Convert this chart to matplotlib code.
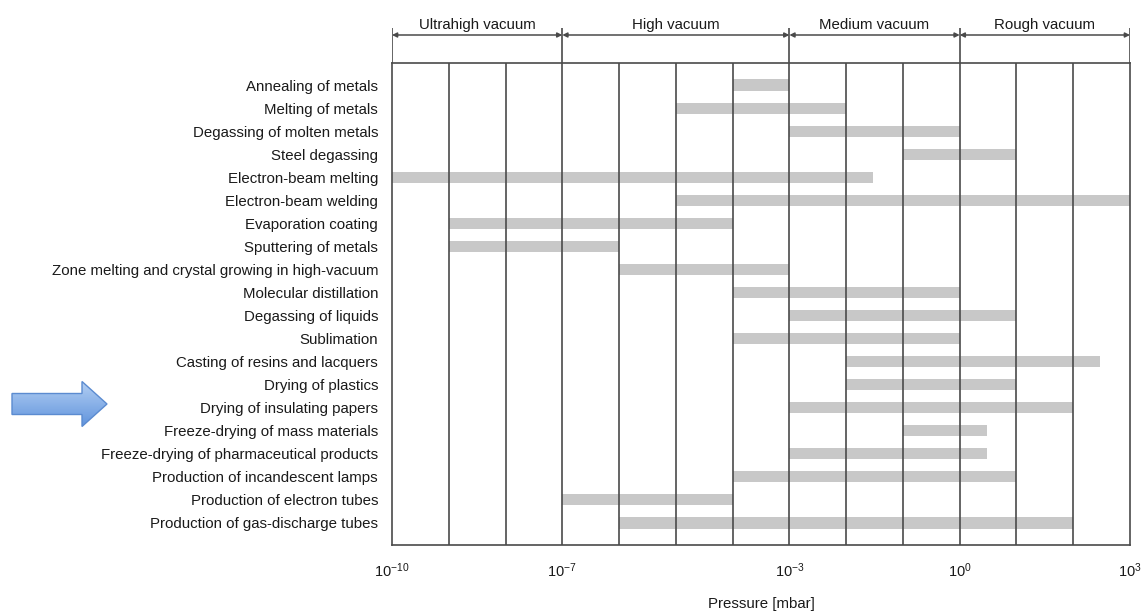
import matplotlib
matplotlib.use("Agg")
import numpy as np
from matplotlib import pyplot as plt
from matplotlib.colors import LinearSegmentedColormap
from matplotlib.patches import FancyArrow

FONT = ["Liberation Sans Narrow", "Liberation Sans", "DejaVu Sans"]
plt.rcParams["font.family"] = FONT
plt.rcParams["mathtext.fontset"] = "custom"
plt.rcParams["mathtext.rm"] = "Liberation Sans"
plt.rcParams["mathtext.it"] = "Liberation Sans"

# Applications and their working pressure range [mbar]
processes = [
    "Annealing of metals",
    "Melting of metals",
    "Degassing of molten metals",
    "Steel degassing",
    "Electron-beam melting",
    "Electron-beam welding",
    "Evaporation coating",
    "Sputtering of metals",
    "Zone melting and crystal growing in high-vacuum",
    "Molecular distillation",
    "Degassing of liquids",
    "Sublimation",
    "Casting of resins and lacquers",
    "Drying of plastics",
    "Drying of insulating papers",
    "Freeze-drying of mass materials",
    "Freeze-drying of pharmaceutical products",
    "Production of incandescent lamps",
    "Production of electron tubes",
    "Production of gas-discharge tubes",
]
p_low = [1e-4, 1e-5, 1e-3, 1e-1, 1e-10, 1e-5, 1e-9, 1e-9, 1e-6, 1e-4,
         1e-3, 1e-4, 1e-2, 1e-2, 1e-3, 1e-1, 1e-3, 1e-4, 1e-7, 1e-6]
p_high = [1e-3, 1e-2, 1e0, 1e1, 3e-2, 1e3, 1e-4, 1e-6, 1e-3, 1e0,
          1e1, 1e0, 3e2, 1e1, 1e2, 3e0, 3e0, 1e1, 1e-4, 1e2]

# Vacuum ranges shown in the header
ranges = ["Ultrahigh vacuum", "High vacuum", "Medium vacuum", "Rough vacuum"]
range_edges = [1e-10, 1e-7, 1e-3, 1e0, 1e3]

tick_values = [1e-10, 1e-7, 1e-3, 1e0, 1e3]
tick_labels = [r"$10^{-10}$", r"$10^{-7}$", r"$10^{-3}$", r"$10^{0}$", r"$10^{3}$"]

LINE = "#4a4a4a"
BAR = "#c8c8c8"
TEXT = "#1a1a1a"
W, H = 1145, 614

fig = plt.figure(figsize=(W / 100, H / 100), dpi=100)
x0, x1 = 392 / W, 1130 / W
ax = fig.add_axes([x0, 1 - 545 / H, x1 - x0, (545 - 63) / H])
hdr = fig.add_axes([x0, 1 - 63 / H, x1 - x0, (63 - 28) / H], sharex=ax)

ax.set_xscale("log")
ax.set_xlim(1e-10, 1e3)
ypos = list(range(len(processes)))
ax.barh(ypos, [h - l for l, h in zip(p_low, p_high)], left=p_low, height=0.48,
        color=BAR, zorder=1)
ax.set_ylim(len(processes) - 1 + 0.955, -0.955)

# decade grid lines drawn over the bars
for e in range(-9, 3):
    ax.axvline(10.0 ** e, color=LINE, lw=1.2, zorder=3)
for s in ax.spines.values():
    s.set_color(LINE)
    s.set_linewidth(1.2)
    s.set_zorder(4)

ax.set_yticks(ypos)
ax.set_yticklabels(processes, fontsize=10.8, color=TEXT)
ax.tick_params(axis="y", length=0, pad=10)
ax.set_xticks(tick_values)
ax.set_xticklabels(tick_labels, fontsize=10.5, color=TEXT)
ax.minorticks_off()
ax.tick_params(axis="x", length=0, pad=12)
ax.set_xlabel("Pressure [mbar]", fontsize=10.8, color=TEXT, labelpad=12)

# header with vacuum ranges
hdr.set_ylim(0, 1)
hdr.axis("off")
for edge in range_edges:
    hdr.axvline(edge, color=LINE, lw=1.2)
for name, a, b in zip(ranges, range_edges[:-1], range_edges[1:]):
    hdr.annotate("", xy=(a, 0.8), xytext=(b, 0.8),
                 arrowprops=dict(arrowstyle="<|-|>", color=LINE, lw=1.1,
                                 mutation_scale=7, shrinkA=0, shrinkB=0))
    hdr.text((a * b) ** 0.5, 0.97, name, ha="center", va="baseline",
             fontsize=10.8, color=TEXT)

# blue pointer arrow on the left, filled with a vertical gradient
pax = fig.add_axes([0, 0, 1, 1], zorder=-1)
pax.set_xlim(0, W)
pax.set_ylim(H, 0)
pax.axis("off")
arrow = FancyArrow(12, 404, 95, 0, width=21, head_width=45, head_length=25,
                   length_includes_head=True, facecolor="none",
                   edgecolor="#5b8bd0", lw=1)
pax.add_patch(arrow)
grad = LinearSegmentedColormap.from_list("arrow", ["#b3cff3", "#5e92dc"])
img = pax.imshow(np.linspace(0, 1, 64).reshape(-1, 1), cmap=grad,
                 extent=(10, 110, 428, 381), aspect="auto")
img.set_clip_path(arrow)

plt.savefig("out.png", dpi=100)
